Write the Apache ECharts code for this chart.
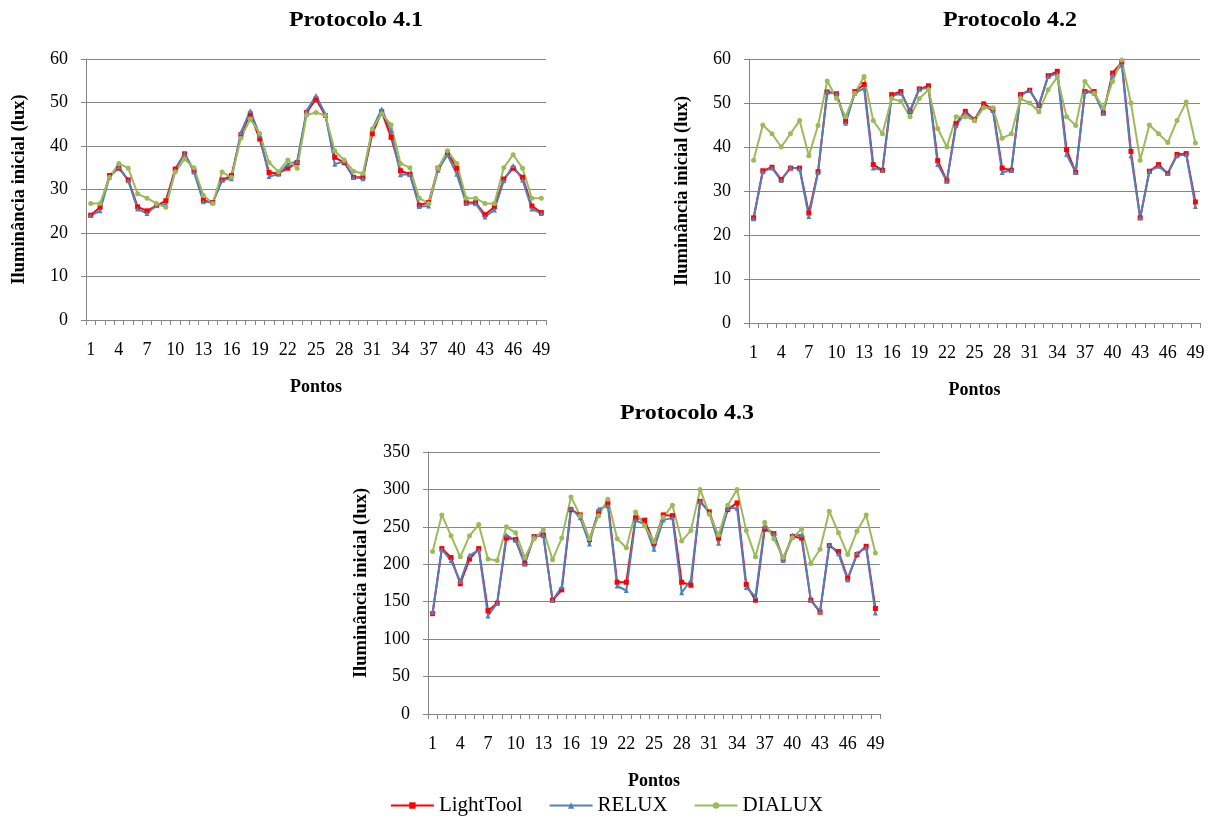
<!DOCTYPE html>
<html>
<head>
<meta charset="utf-8">
<script src="https://cdn.jsdelivr.net/npm/echarts@6/dist/echarts.min.js"></script>
<style>
  html, body { margin: 0; padding: 0; background: #fff; }
  #chart { width: 1213px; height: 819px; }
</style>
</head>
<body>
<div id="chart"></div>
<script>
// pontos 1..49
const pontos = ['1','2','3','4','5','6','7','8','9','10','11','12','13','14','15','16','17','18','19','20',
  '21','22','23','24','25','26','27','28','29','30','31','32','33','34','35','36','37','38','39','40',
  '41','42','43','44','45','46','47','48','49'];

// Protocolo 4.1
const lt41 = [24.1,25.9,33.2,34.9,32.2,26,25.1,26.3,27.4,34.7,38.2,34.3,27.5,27,32.2,33.2,42.6,47.4,41.6,33.9,33.7,34.9,36.2,47.7,50.8,47,37.4,36.2,32.8,32.8,42.8,47.9,42,34.3,33.5,26.4,27,34.9,38.5,34.9,27,27,24.2,26,32.4,34.9,32.8,26.2,24.7];
const re41 = [24,25.1,32.8,35.2,32,25.5,24.5,26.3,26.6,34.4,38.3,34,27.2,27,32.2,32.5,43.1,48.1,42.5,33,33.5,35.8,36.5,48.1,51.6,47.3,35.8,36.5,32.8,32.5,43.9,48.5,43.5,33.4,33.5,26.1,26.2,34.4,38,33.5,26.8,26.8,23.7,25.3,32,35.5,32.2,25.5,24.5];
const di41 = [26.8,26.8,32.8,36,34.9,29,28,26.8,25.9,34,37,35,28.7,26.8,34,32.8,41.8,46.2,42.9,36.2,34.1,36.8,34.9,47.1,47.7,47,38.9,36.8,34.2,33.7,43.9,47.4,44.9,36,35,28,26.8,34.9,38.9,36,28,28,26.8,26.8,35,38,34.9,28,28];

// Protocolo 4.2
const lt42 = [23.9,34.6,35.4,32.6,35.2,35.2,25,34.4,52.5,52.1,45.8,52.6,54.2,36,34.7,51.9,52.6,48.1,53.2,53.9,36.9,32.3,45.3,48.1,46.2,49.8,48.6,35.2,34.7,51.9,52.9,49.4,56.2,57.2,39.4,34.2,52.6,52.6,47.7,56.8,59.3,39,23.9,34.5,36,34,38.3,38.5,27.5];
const re42 = [23.7,34.4,35.2,32.4,35.4,35,24.2,34.2,52.6,52.1,45.4,52.2,53.4,35.2,34.7,51.5,52.2,48.3,53.2,53.4,36,32.2,44.9,47.7,46.2,49.3,48.3,34.2,34.7,51.7,52.9,49.6,56,56.7,38.3,34.2,52.6,52.2,47.7,56.4,58.7,38,23.9,34.5,35.6,34,38,38.3,26.5];
const di42 = [37,45,43,40,43,46,38,44.9,55,51.1,46.9,52.2,56,46,43,51,50.4,46.9,51,53,44.2,40,46.9,46.9,46,48.9,48.9,42,43,51,50,48,53,55.9,46.9,44.9,54.9,52.2,48.9,54.9,59.8,50,37,45,43,41,46,50.2,40.9];

// Protocolo 4.3
const lt43 = [134,221,209,174,207,221,138,148,235,233,201,237,239,152,166,273,266,233,270,282,176,176,262,259,228,266,265,176,172,284,270,235,273,282,173,152,247,241,207,237,235,152,136,225,217,181,213,224,141];
const re43 = [136,220,205,177,212,219,131,148,239,232,200,238,239,152,170,275,262,227,274,278,171,165,259,253,220,259,262,162,179,284,269,228,275,275,169,157,250,241,205,239,239,152,137,226,214,179,215,222,135];
const di43 = [217,266,238,210,238,253,207,205,250,242,209,234,246,206,235,290,265,234,265,287,234,222,270,251,230,263,279,231,245,300,267,239,279,300,245,210,256,234,209,235,247,201,220,271,242,213,244,266,215];

const FONT = '"Liberation Serif", "Times New Roman", serif';
const AXIS_GRAY = '#868686';

function xAx(grid) {
  return {
    type: 'category', gridIndex: grid, data: pontos, boundaryGap: true,
    name: 'Pontos', nameLocation: 'middle', nameGap: 58,
    nameTextStyle: { fontFamily: FONT, fontWeight: 'bold', fontSize: 18, color: '#000' },
    axisLine: { lineStyle: { color: AXIS_GRAY } },
    axisTick: { show: true, interval: 0, length: 5, lineStyle: { color: AXIS_GRAY } },
    axisLabel: { interval: 2, fontFamily: FONT, fontSize: 18, color: '#000', margin: 21 },
    splitLine: { show: false }
  };
}
function yAx(grid, max, step) {
  return {
    type: 'value', gridIndex: grid, min: 0, max: max, interval: step,
    name: 'Iluminância inicial (lux)', nameLocation: 'middle', nameGap: 57,
    nameTextStyle: { fontFamily: FONT, fontWeight: 'bold', fontSize: 18.5, color: '#000' },
    axisLine: { show: true, lineStyle: { color: AXIS_GRAY } },
    axisTick: { show: true, length: 5, lineStyle: { color: AXIS_GRAY } },
    axisLabel: { fontFamily: FONT, fontSize: 18, color: '#000', margin: 18 },
    splitLine: { lineStyle: { color: AXIS_GRAY, width: 1 } }
  };
}
function serie(name, data, grid, color, symbol, size) {
  return {
    name: name, type: 'line', xAxisIndex: grid, yAxisIndex: grid, data: data,
    symbol: symbol, symbolSize: size, showSymbol: true,
    lineStyle: { color: color, width: 2 }, itemStyle: { color: color },
    animation: false
  };
}
function titulo(text, x, y) {
  return { type: 'text', x: x, y: y, scaleX: 1.2,
    style: { text: text, font: 'bold 20px ' + FONT, fill: '#000', textAlign: 'center', textVerticalAlign: 'middle' } };
}

const myChart = echarts.init(document.getElementById('chart'));
myChart.setOption({
  backgroundColor: '#fff',
  graphic: [
    titulo('Protocolo 4.1', 356, 21),
    titulo('Protocolo 4.2', 1010, 21),
    titulo('Protocolo 4.3', 687, 414)
  ],
  legend: {
    bottom: -2, left: 'center', itemWidth: 43, itemHeight: 8, itemGap: 26,
    textStyle: { fontFamily: FONT, fontSize: 21, color: '#000' },
    data: ['LightTool', 'RELUX', 'DIALUX']
  },
  grid: [
    { left: 86, top: 59, width: 460, height: 261 },
    { left: 749, top: 59, width: 451, height: 264 },
    { left: 428, top: 452, width: 452, height: 262 }
  ],
  xAxis: [xAx(0), xAx(1), xAx(2)],
  yAxis: [yAx(0, 60, 10), yAx(1, 60, 10), yAx(2, 350, 50)],
  series: [
    serie('LightTool', lt41, 0, '#FF0000', 'rect', 5),
    serie('RELUX', re41, 0, '#4F81BD', 'triangle', 5),
    serie('DIALUX', di41, 0, '#9BBB59', 'circle', 5),
    serie('LightTool', lt42, 1, '#FF0000', 'rect', 5),
    serie('RELUX', re42, 1, '#4F81BD', 'triangle', 5),
    serie('DIALUX', di42, 1, '#9BBB59', 'circle', 5),
    serie('LightTool', lt43, 2, '#FF0000', 'rect', 5),
    serie('RELUX', re43, 2, '#4F81BD', 'triangle', 5),
    serie('DIALUX', di43, 2, '#9BBB59', 'circle', 5)
  ]
});
window.addEventListener('resize', () => { myChart.resize(); });
</script>
</body>
</html>
